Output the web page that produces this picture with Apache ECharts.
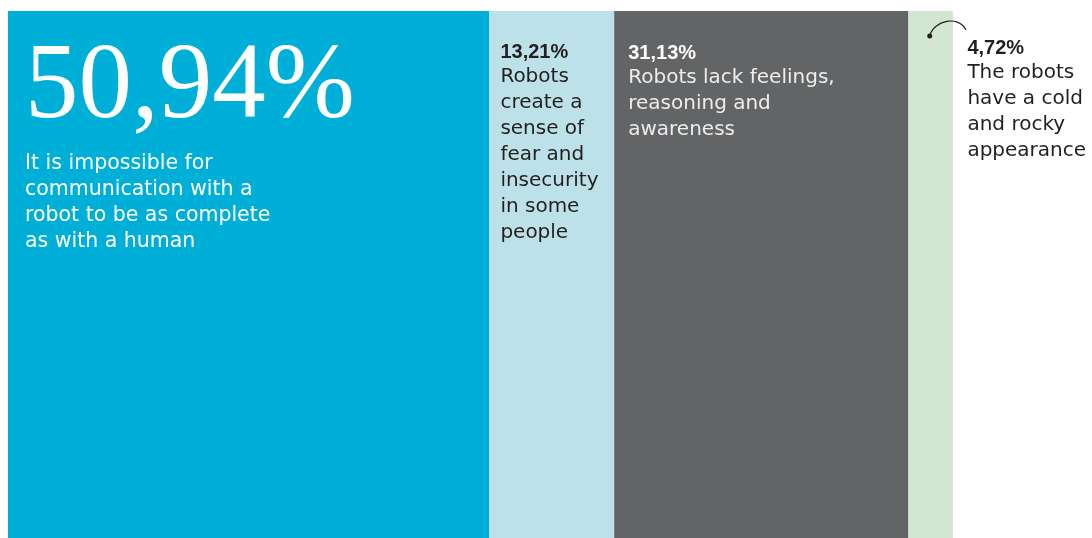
<!DOCTYPE html>
<html><head><meta charset="utf-8">
<script src="https://cdn.jsdelivr.net/npm/echarts@6/dist/echarts.min.js"></script>
<style>html,body{margin:0;padding:0;background:#fff}#c{width:1092px;height:538px}</style>
</head><body><div id="c"></div>
<script>
const categories = ['Responses'];
const values = [50.94, 13.21, 31.13, 4.72];
const pctLabels = ['50,94%', '13,21%', '31,13%', '4,72%'];
const descriptions = [
  'It is impossible for\ncommunication with a\nrobot to be as complete\nas with a human',
  'Robots\ncreate a\nsense of\nfear and\ninsecurity\nin some\npeople',
  'Robots lack feelings,\nreasoning and\nawareness',
  'The robots\nhave a cold\nand rocky\nappearance'
];
const colors = ['#00AFD7', '#BDE1E9', '#636466', '#D3E6D1'];

const sans = 'DejaVu Sans';
const bold = 'Liberation Sans';
const labelCfg = [
  { position: [17, 16], rich: {
      p: { fontFamily: 'Liberation Serif', fontSize: 107, lineHeight: 124, color: '#fff' },
      d: { fontFamily: sans, fontSize: 20.5, lineHeight: 26, color: '#fff' } } },
  { position: [11, 29], rich: {
      p: { fontFamily: bold, fontSize: 20, fontWeight: 'bold', lineHeight: 24, color: '#231f20' },
      d: { fontFamily: sans, fontSize: 20, lineHeight: 26, color: '#231f20' } } },
  { position: [14, 30], rich: {
      p: { fontFamily: bold, fontSize: 20, fontWeight: 'bold', lineHeight: 24, color: '#fff' },
      d: { fontFamily: sans, fontSize: 20, lineHeight: 26, color: '#ededed' } } },
  { position: [59, 25], rich: {
      p: { fontFamily: bold, fontSize: 20, fontWeight: 'bold', lineHeight: 24, color: '#231f20' },
      d: { fontFamily: sans, fontSize: 20, lineHeight: 26, color: '#231f20' } } }
];

const series = values.map((v, i) => ({
  type: 'bar', stack: 'all', barWidth: '100%', name: pctLabels[i],
  data: [v],
  itemStyle: { color: colors[i] },
  silent: true,
  label: {
    show: true, position: labelCfg[i].position, align: 'left', verticalAlign: 'top',
    formatter: () => '{p|' + pctLabels[i] + '}\n' + descriptions[i].split('\n').map(s => '{d|' + s + '}').join('\n'),
    rich: labelCfg[i].rich
  }
}));

const chart = echarts.init(document.getElementById('c'), null, { renderer: 'canvas' });
chart.setOption({
  animation: false,
  grid: { left: 8, right: 139, top: 11, bottom: 0, containLabel: false },
  xAxis: { type: 'value', min: 0, max: 100, show: false },
  yAxis: { type: 'category', data: categories, show: false },
  series
});

// connector arc near last segment
const endX = chart.convertToPixel({ xAxisIndex: 0 }, 100);
const startX = chart.convertToPixel({ xAxisIndex: 0 }, 100 - values[3]);
const mid = (startX + endX) / 2;
chart.setOption({
  graphic: [
    { type: 'bezierCurve', z: 100, shape: { x1: mid - 1, y1: 36, cpx1: mid + 3, cpy1: 20, cpx2: endX + 6, cpy2: 15, x2: endX + 13, y2: 30 },
      style: { stroke: '#231f20', lineWidth: 1.2, fill: null } },
    { type: 'circle', z: 101, shape: { cx: mid - 1, cy: 36, r: 2.5 }, style: { fill: '#231f20' } }
  ]
});
</script></body></html>
